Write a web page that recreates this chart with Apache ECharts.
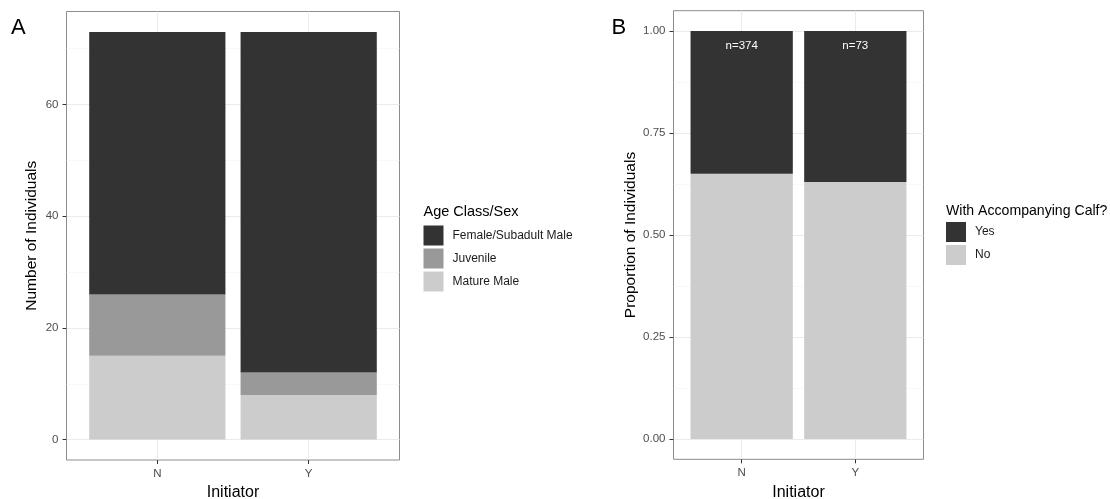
<!DOCTYPE html>
<html>
<head>
<meta charset="utf-8">
<script src="https://cdn.jsdelivr.net/npm/echarts@6/dist/echarts.min.js"></script>
<style>
  html, body { margin: 0; padding: 0; background: #ffffff; }
  #chart { width: 1110px; height: 499px; }
</style>
</head>
<body>
<div id="chart"></div>
<script>
// ---- data ----
const initiators = ['N', 'Y'];

// Panel A: number of individuals by age class / sex
const matureMale = [15, 8];
const juvenile = [11, 4];
const femaleSubadultMale = [47, 61];

// Panel B: proportion of individuals with an accompanying calf
const calfNo = [0.65, 0.63];
const calfYes = [0.35, 0.37];
const sampleSizes = [374, 73];

// tick values and labels
const countTicks = [0, 20, 40, 60];
const countMinorTicks = [10, 30, 50, 70];
const propTicks = [0, 0.25, 0.5, 0.75, 1];
const propTickLabels = ['0.00', '0.25', '0.50', '0.75', '1.00'];
const propMinorTicks = [0.125, 0.375, 0.625, 0.875];

// axis ranges (5% padding around the data range)
const countRange = [-3.65, 76.65];
const propRange = [-0.05, 1.05];

// ---- layout & style ----
const FONT = '"Liberation Sans", Arial, Helvetica, sans-serif';
const DARK = '#333333', MID = '#999999', LIGHT = '#cccccc';
const GRID_MAJOR = '#ebebeb', GRID_MINOR = '#f4f4f4';
const BORDER = '#8c8c8c';
const TICK_TEXT = '#4d4d4d';

const frameA = { left: 66.5, top: 11.5, width: 333, height: 448.5 };
const frameB = { left: 673.5, top: 10.7, width: 250, height: 448.6 };

// discrete x positions sit at 1..n inside a 0.4..n+0.6 frame
function innerGrid(f) {
  const unit = f.width / (initiators.length + 0.2);
  return {
    left: f.left + 0.1 * unit, top: f.top, width: initiators.length * unit, height: f.height,
    show: false, outerBoundsMode: 'none', containLabel: false
  };
}
function frameGrid(f) {
  return Object.assign({
    show: true, backgroundColor: 'rgba(0,0,0,0)', borderColor: BORDER, borderWidth: 1,
    outerBoundsMode: 'none', containLabel: false
  }, f);
}
const xPositions = initiators.map((_, i) => i + 1);

function frameX(gridIndex) {
  return {
    type: 'value', gridIndex, min: 0.4, max: initiators.length + 0.6,
    axisLine: { show: false, onZero: false },
    axisLabel: { show: false },
    axisTick: { show: false, customValues: xPositions },
    splitLine: { show: true, lineStyle: { color: GRID_MAJOR, width: 1 } }
  };
}
function innerX(gridIndex, name) {
  return {
    type: 'category', gridIndex, data: initiators, position: 'bottom',
    axisLine: { show: false, onZero: false },
    axisTick: { show: true, alignWithLabel: true, length: 4, lineStyle: { color: '#333333' } },
    axisLabel: { color: TICK_TEXT, fontSize: 11.5, fontFamily: FONT, margin: 8 },
    splitLine: { show: false },
    name, nameLocation: 'middle', nameGap: 23,
    nameTextStyle: { color: '#000000', fontSize: 16, fontFamily: FONT }
  };
}
function majorY(gridIndex, range, ticks, fmt, name, nameGap) {
  return {
    type: 'value', gridIndex, min: range[0], max: range[1], position: 'left',
    axisLine: { show: false, onZero: false },
    axisTick: { show: true, length: 4, customValues: ticks, lineStyle: { color: '#333333' } },
    axisLabel: { customValues: ticks, formatter: fmt, color: TICK_TEXT, fontSize: 11.5, fontFamily: FONT, margin: 8 },
    splitLine: { show: true, lineStyle: { color: GRID_MAJOR, width: 1 } },
    name, nameLocation: 'middle', nameGap,
    nameTextStyle: { color: '#000000', fontSize: 15.5, fontFamily: FONT }
  };
}
function minorY(gridIndex, range, ticks) {
  return {
    type: 'value', gridIndex, min: range[0], max: range[1], position: 'right',
    axisLine: { show: false, onZero: false }, axisLabel: { show: false },
    axisTick: { show: false, customValues: ticks },
    splitLine: { show: true, lineStyle: { color: GRID_MINOR, width: 0.6 } }
  };
}
function hiddenY(gridIndex, range) {
  return { type: 'value', gridIndex, min: range[0], max: range[1], show: false, axisLine: { onZero: false } };
}
function bar(name, data, color, xAxisIndex, yAxisIndex, stack, extra) {
  return Object.assign({
    type: 'bar', name, data, stack, xAxisIndex, yAxisIndex,
    barWidth: '90%', itemStyle: { color }, silent: true,
    emphasis: { disabled: true }
  }, extra || {});
}
function legend(left, top, names) {
  return {
    left, top, orient: 'vertical', data: names, icon: 'rect', padding: 0,
    itemWidth: 20, itemHeight: 20, itemGap: 3, selectedMode: false,
    textStyle: { color: '#1a1a1a', fontSize: 12, fontFamily: FONT, padding: [0, 0, 0, 4] }
  };
}
function label(text, left, top, size) {
  return { text, left, top, textStyle: { color: '#000000', fontSize: size, fontWeight: 'normal', fontFamily: FONT }, padding: 0 };
}

const option = {
  backgroundColor: '#ffffff',
  animation: false,
  title: [
    label('A', 11, 17, 22),
    label('B', 611.5, 17, 22),
    label('Age Class/Sex', 423.5, 204, 14.5),
    label('With Accompanying Calf?', 946, 204, 14.1)
  ],
  legend: [
    legend(423.5, 225.5, ['Female/Subadult Male', 'Juvenile', 'Mature Male']),
    legend(946, 222, ['Yes', 'No'])
  ],
  grid: [frameGrid(frameA), innerGrid(frameA), frameGrid(frameB), innerGrid(frameB)],
  xAxis: [frameX(0), innerX(1, 'Initiator'), frameX(2), innerX(3, 'Initiator')],
  yAxis: [
    majorY(0, countRange, countTicks, v => String(v), 'Number of Individuals', 27),
    minorY(0, countRange, countMinorTicks),
    hiddenY(1, countRange),
    majorY(2, propRange, propTicks, v => propTickLabels[propTicks.indexOf(v)], 'Proportion of Individuals', 34),
    minorY(2, propRange, propMinorTicks),
    hiddenY(3, propRange)
  ],
  series: [
    bar('Mature Male', matureMale, LIGHT, 1, 2, 'age'),
    bar('Juvenile', juvenile, MID, 1, 2, 'age'),
    bar('Female/Subadult Male', femaleSubadultMale, DARK, 1, 2, 'age'),
    bar('No', calfNo, LIGHT, 3, 5, 'calf'),
    bar('Yes', calfYes, DARK, 3, 5, 'calf', {
      label: {
        show: true, position: 'insideTop', distance: 9,
        color: '#ffffff', fontSize: 11.5, fontFamily: FONT,
        formatter: p => 'n=' + sampleSizes[p.dataIndex]
      }
    })
  ]
};

const chart = echarts.init(document.getElementById('chart'), null, { renderer: 'canvas' });
chart.setOption(option);
</script>
</body>
</html>
